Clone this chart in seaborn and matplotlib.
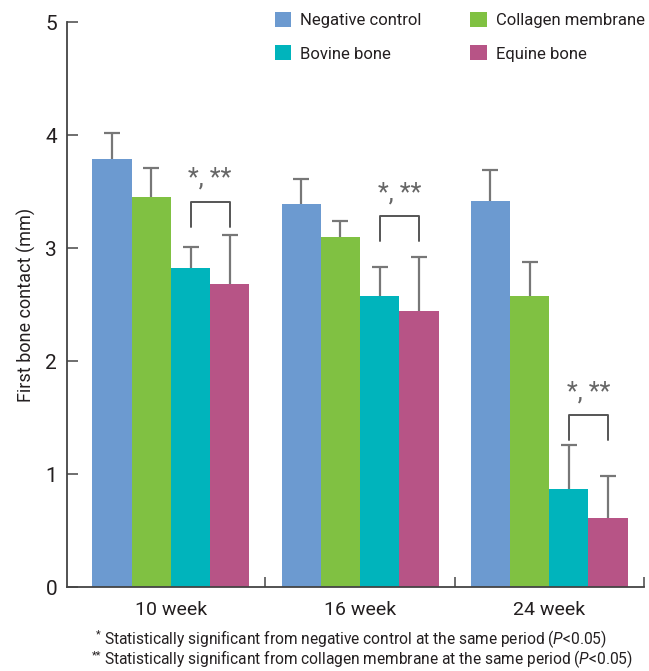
import numpy as np
import pandas as pd
import seaborn as sns
import matplotlib
matplotlib.use("Agg")
from matplotlib import pyplot as plt
from matplotlib.patches import Patch

# data
weeks = ['10 week', '16 week', '24 week']
groups = ['Negative control', 'Collagen membrane', 'Bovine bone', 'Equine bone']
negative = [3.79, 3.39, 3.42]
collagen = [3.45, 3.10, 2.58]
bovine = [2.82, 2.58, 0.87]
equine = [2.68, 2.44, 0.61]
negative_sd = [0.23, 0.22, 0.27]
collagen_sd = [0.26, 0.14, 0.30]
bovine_sd = [0.19, 0.25, 0.39]
equine_sd = [0.44, 0.48, 0.37]
bracket_top = [3.41, 3.28, 1.52]
colors = ['#6C9AD0', '#80C142', '#00B4BC', '#B75486']

sns.set_style('white')
plt.rcParams['font.family'] = ['Roboto', 'DejaVu Sans']
plt.rcParams['mathtext.fontset'] = 'custom'
plt.rcParams['mathtext.rm'] = 'Roboto'
plt.rcParams['mathtext.it'] = 'Roboto:italic'

vals = [negative, collagen, bovine, equine]
sds = [negative_sd, collagen_sd, bovine_sd, equine_sd]
df = pd.DataFrame({
    'week': weeks * 4,
    'group': np.repeat(groups, 3),
    'value': np.concatenate(vals),
    'sd': np.concatenate(sds),
})

fig = plt.figure(figsize=(6.49, 6.71), dpi=100)
ax = fig.add_axes([0.103, 0.125, 0.889, 0.842])

sns.barplot(data=df, x='week', y='value', hue='group', order=weeks, hue_order=groups,
            palette=colors, saturation=1, width=0.83, gap=0, errorbar=None,
            legend=False, linewidth=0, ax=ax)

# upward-only error bars, taken from the bar containers
for cont, sd in zip(ax.containers, sds):
    xs = [p.get_x() + p.get_width() / 2 for p in cont.patches]
    hs = [p.get_height() for p in cont.patches]
    _, caps, _ = ax.errorbar(xs, hs, yerr=[np.zeros(3), sd], fmt='none', ecolor='#777777',
                             elinewidth=1.6, capsize=6, capthick=1.6, zorder=1)
    caps[0].set_visible(False)

# significance brackets between bovine and equine
bov = ax.containers[2].patches
equ = ax.containers[3].patches
for i in range(3):
    x1 = bov[i].get_x() + bov[i].get_width() / 2
    x2 = equ[i].get_x() + equ[i].get_width() / 2
    yt = bracket_top[i]
    ax.plot([x1, x1, x2, x2], [yt - 0.22, yt, yt, yt - 0.22], color='#555555', lw=1.4)
    ax.text((x1 + x2) / 2, yt + 0.1, '*, **', ha='center', va='bottom',
            fontsize=18, color='#666666')

ax.set_xlim(-0.55, 2.5)
ax.set_ylim(0, 5)
ax.set_yticks([0, 1, 2, 3, 4, 5])
ax.set_xticks([0, 1, 2])
ax.set_xticks([0.5, 1.5, 2.5], minor=True)
ax.tick_params(axis='y', direction='in', length=8, width=1.2, color='#555555',
               labelsize=15, pad=7, labelcolor='#231F20', left=True)
ax.tick_params(axis='x', which='major', length=0, labelsize=14, pad=10, labelcolor='#231F20')
ax.tick_params(axis='x', which='minor', direction='in', length=7, width=1.2,
               color='#555555', bottom=True)
for s in ['top', 'right']:
    ax.spines[s].set_visible(False)
for s in ['left', 'bottom']:
    ax.spines[s].set_color('#444444')
    ax.spines[s].set_linewidth(1.3)
ax.set_xlabel('')
ax.set_ylabel('First bone contact (mm)', fontsize=13, color='#231F20', labelpad=7)

# legend fills column-wise, so order handles to give rows Negative/Collagen, Bovine/Equine
order = [0, 2, 1, 3]
handles = [Patch(facecolor=colors[i], edgecolor='none') for i in order]
leg = ax.legend(handles, [groups[i] for i in order], ncol=2, loc='upper left',
                bbox_to_anchor=(0.334, 1.045), frameon=False, fontsize=12,
                handlelength=1.0, handleheight=1.0, handletextpad=0.55,
                columnspacing=2.9, labelspacing=1.05)
for t in leg.get_texts():
    t.set_color('#231F20')

# footnotes, asterisks as small raised text
fig.text(0.147, 0.055, '*', fontsize=8, color='#231F20', va='center')
fig.text(0.160, 0.048, 'Statistically significant from negative control at the same period ($P$<0.05)',
         fontsize=11.2, color='#231F20', va='center')
fig.text(0.141, 0.024, '**', fontsize=8, color='#231F20', va='center')
fig.text(0.160, 0.017, 'Statistically significant from collagen membrane at the same period ($P$<0.05)',
         fontsize=11.2, color='#231F20', va='center')

fig.savefig('out.png', dpi=100)
